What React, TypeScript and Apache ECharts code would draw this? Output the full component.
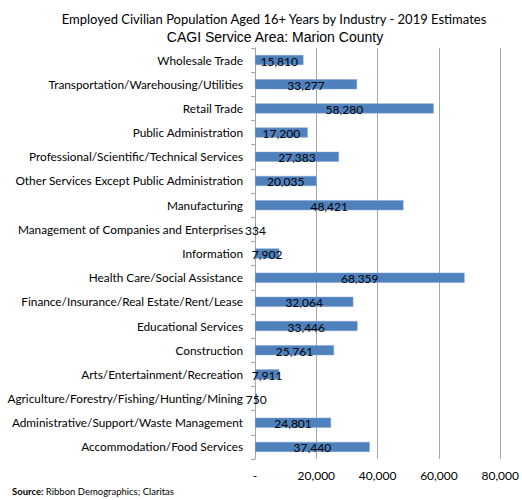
import React, { useEffect, useRef } from "react";
import * as echarts from "echarts";

const categories = [
  "Wholesale Trade",
  "Transportation/Warehousing/Utilities",
  "Retail Trade",
  "Public Administration",
  "Professional/Scientific/Technical Services",
  "Other Services Except Public Administration",
  "Manufacturing",
  "Management of Companies and Enterprises",
  "Information",
  "Health Care/Social Assistance",
  "Finance/Insurance/Real Estate/Rent/Lease",
  "Educational Services",
  "Construction",
  "Arts/Entertainment/Recreation",
  "Agriculture/Forestry/Fishing/Hunting/Mining",
  "Administrative/Support/Waste Management",
  "Accommodation/Food Services",
];

const employed = [
  15810, 33277, 58280, 17200, 27383, 20035, 48421, 334, 7902, 68359, 32064,
  33446, 25761, 7911, 750, 24801, 37440,
];

const titleText =
  "Employed Civilian Population Aged 16+ Years by Industry - 2019 Estimates";
const subtitleText = "CAGI Service Area: Marion County";
const sourceLabel = "Source:";
const sourceText = " Ribbon Demographics; Claritas";

const FONT = "Lato, 'Open Sans', sans-serif";

export default function App() {
  const ref = useRef<HTMLDivElement>(null);
  useEffect(() => {
    document.body.style.margin = "0";
    if (!ref.current) return;
    const chart = echarts.init(ref.current, undefined, { renderer: "svg" });
    chart.setOption({
      animation: false,
      backgroundColor: "#ffffff",
      title: [
        {
          text: titleText,
          left: 269,
          top: 7,
          textAlign: "center",
          textStyle: {
            fontFamily: FONT,
            fontSize: 13,
            fontWeight: "normal",
            color: "#000",
          },
        },
        {
          text: subtitleText,
          left: 270,
          top: 25,
          textAlign: "center",
          textStyle: {
            fontFamily: "'Liberation Sans', Arial, sans-serif",
            fontSize: 14,
            fontWeight: "normal",
            color: "#000",
          },
        },
      ],
      graphic: [
        {
          type: "text",
          left: 12,
          top: 486,
          style: {
            rich: {
              b: { fontWeight: "bold", fontSize: 9.5, fontFamily: FONT, fill: "#000" },
              n: { fontSize: 9.5, fontFamily: FONT, fill: "#000" },
            },
            text: "{b|" + sourceLabel + "}{n|" + sourceText + "}",
          },
        },
      ],
      grid: {
        left: 255,
        right: 21,
        top: 48,
        bottom: 41,
        containLabel: false,
      },
      xAxis: {
        type: "value",
        min: 0,
        max: 80000,
        interval: 20000,
        axisLine: { show: false },
        axisTick: { show: false },
        splitLine: { show: true, lineStyle: { color: "#a6a6a6", width: 1 } },
        axisLabel: {
          fontFamily: FONT,
          fontSize: 12,
          color: "#000",
          margin: 10,
          formatter: (v: number) => (v === 0 ? "-" : v.toLocaleString("en-US")),
        },
      },
      yAxis: {
        type: "category",
        data: categories,
        inverse: true,
        axisLine: { show: true, lineStyle: { color: "#a6a6a6" } },
        axisTick: { show: true, length: 4, lineStyle: { color: "#a6a6a6" } },
        axisLabel: {
          fontFamily: FONT,
          fontSize: 11.8,
          color: "#000",
          margin: 12,
        },
      },
      series: [
        {
          type: "bar",
          data: employed,
          barWidth: 10,
          itemStyle: { color: "#4f81bd", borderColor: "#7fa3d1", borderWidth: 0.5 },
          label: {
            show: true,
            position: "inside",
            fontFamily: FONT,
            fontSize: 12,
            color: "#000",
            offset: [0, 1],
            formatter: (p: any) => Number(p.value).toLocaleString("en-US"),
          },
        },
      ],
    });
    return () => chart.dispose();
  }, []);
  return <div ref={ref} style={{ width: 522, height: 500 }} />;
}
